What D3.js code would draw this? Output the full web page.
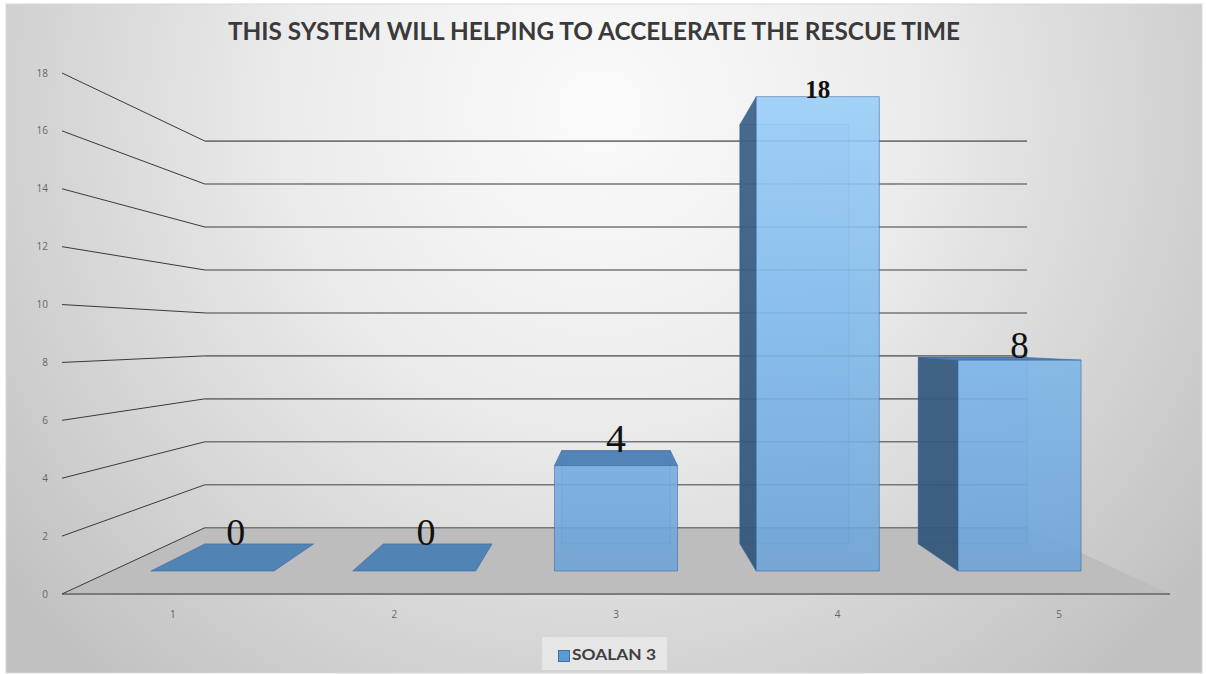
<!DOCTYPE html>
<html>
<head>
<meta charset="utf-8">
<script src="https://cdn.jsdelivr.net/npm/d3@7/dist/d3.min.js"></script>
<style>
  html, body { margin: 0; padding: 0; background: #ffffff; }
  svg { display: block; }
</style>
</head>
<body>
<svg id="chart" width="1206" height="674"></svg>
<script>
// ---- data ----
const chartTitle = "THIS SYSTEM WILL HELPING TO ACCELERATE THE RESCUE TIME";
const categories = ["1", "2", "3", "4", "5"];
const seriesName = "SOALAN 3";
const values = [0, 0, 4, 18, 8];
const yTicks = [0, 2, 4, 6, 8, 10, 12, 14, 16, 18];

// label fonts per bar (data labels use mixed formatting)
const labelFonts = [
  { size: 38, weight: 400 },
  { size: 38, weight: 400 },
  { size: 40, weight: 400 },
  { size: 25, weight: 700 },
  { size: 37, weight: 400 }
];

const W = 1206, H = 674;
const svg = d3.select("#chart");
const defs = svg.append("defs");

// ---- scales (front plane of the 3D box) ----
const x = d3.scaleBand().domain(categories).range([62, 1170])
  .paddingInner(0.39).paddingOuter(0.195);
const y = d3.scaleLinear().domain([0, 18]).range([594, 73]);

// perspective: every depth plane is a scaled copy of the front plane
const vp = [(x.range()[0] + x.range()[1]) / 2, 337];
const depth = { front: 1, barFront: 0.9105, barBack: 0.805, wall: 0.742 };
function P(px, py, s) {
  return [vp[0] + s * (px - vp[0]), vp[1] + s * (py - vp[1])];
}
const line = d3.line();

// ---- background ----
const bg = defs.append("radialGradient").attr("id", "bgGrad")
  .attr("gradientUnits", "userSpaceOnUse")
  .attr("cx", 600).attr("cy", 110).attr("r", 760);
bg.append("stop").attr("offset", 0).attr("stop-color", "#fbfbfb");
bg.append("stop").attr("offset", 0.4).attr("stop-color", "#ececec");
bg.append("stop").attr("offset", 1).attr("stop-color", "#c1c1c1");

svg.append("rect").attr("x", 6).attr("y", 4).attr("width", 1196).attr("height", 669)
  .attr("fill", "url(#bgGrad)").attr("stroke", "#d9d9d9").attr("stroke-width", 1);

// ---- title ----
const titleText = svg.append("text")
  .attr("x", 594).attr("y", 40)
  .attr("text-anchor", "middle")
  .attr("font-family", "Lato, 'Open Sans', sans-serif")
  .attr("font-weight", 700).attr("font-size", 24)
  .attr("fill", "#3a3a3a")
  .text(chartTitle);
titleText.attr("textLength", 732).attr("lengthAdjust", "spacingAndGlyphs");

// ---- floor ----
const [xa, xb] = x.range();
const y0 = y(0);
svg.append("path")
  .attr("d", line([P(xa, y0, depth.front), P(xa, y0, depth.wall), P(xb, y0, depth.wall), P(xb, y0, depth.front)]) + "Z")
  .attr("fill", "#bdbdbd");
svg.append("path")
  .attr("d", line([P(xa, y0, depth.front), P(xb, y0, depth.front)]))
  .attr("stroke", "#7a7a7a").attr("stroke-width", 2).attr("fill", "none");

// ---- gridlines: side wall diagonal + back wall horizontal ----
const grid = svg.append("g");
yTicks.forEach(v => {
  grid.append("path")
    .attr("d", line([P(xa, y(v), depth.front), P(xa, y(v), depth.wall)]))
    .attr("stroke", "#3a3a3a").attr("stroke-width", 1).attr("fill", "none");
  grid.append("path")
    .attr("d", line([P(xa, y(v), depth.wall), P(xb, y(v), depth.wall)]))
    .attr("stroke", "#767676").attr("stroke-width", 1.6).attr("fill", "none");
});

// ---- y tick labels ----
svg.append("g").selectAll("text").data(yTicks).join("text")
  .attr("x", xa - 14).attr("y", d => y(d)).attr("dy", "0.35em")
  .attr("text-anchor", "end")
  .attr("font-family", "'Open Sans', sans-serif").attr("font-size", 10)
  .attr("fill", "#666")
  .text(d => d);

// ---- category labels ----
svg.append("g").selectAll("text").data(categories).join("text")
  .attr("x", d => x(d) + x.bandwidth() / 2).attr("y", 618)
  .attr("text-anchor", "middle")
  .attr("font-family", "'Open Sans', sans-serif").attr("font-size", 10)
  .attr("fill", "#666")
  .text(d => d);

// ---- bars ----
const frontGrad = defs.append("linearGradient").attr("id", "frontGrad")
  .attr("gradientUnits", "userSpaceOnUse")
  .attr("x1", 0).attr("x2", 0).attr("y1", y(18)).attr("y2", y(0));
frontGrad.append("stop").attr("offset", 0).attr("stop-color", "#9bd0fa");
frontGrad.append("stop").attr("offset", 0.5).attr("stop-color", "#7fb8ea");
frontGrad.append("stop").attr("offset", 1).attr("stop-color", "#6aa1d6");

const sideGrad = defs.append("linearGradient").attr("id", "sideGrad")
  .attr("gradientUnits", "userSpaceOnUse")
  .attr("x1", 0).attr("x2", 0).attr("y1", y(18)).attr("y2", y(0));
sideGrad.append("stop").attr("offset", 0).attr("stop-color", "#3d6185");
sideGrad.append("stop").attr("offset", 1).attr("stop-color", "#2f5478");

const barsG = svg.append("g");
const edge = "rgba(50,100,160,0.55)";
categories.forEach((c, i) => {
  const v = values[i];
  const x0 = x(c), x1 = x(c) + x.bandwidth();
  const yt = y(v);
  const sF = depth.barFront, sB = depth.barBack;
  const g = barsG.append("g");
  const face = (pts, fill, op) => g.append("path")
    .attr("d", line(pts) + "Z")
    .attr("fill", fill).attr("fill-opacity", op)
    .attr("stroke", edge).attr("stroke-width", 1);

  if (v > 0) {
    // back face (seen through the translucent front)
    face([P(x0, yt, sB), P(x1, yt, sB), P(x1, y0, sB), P(x0, y0, sB)], "#6fa8dc", 0.25);
    if (x0 > vp[0]) face([P(x0, yt, sF), P(x0, yt, sB), P(x0, y0, sB), P(x0, y0, sF)], "url(#sideGrad)", 0.92);
    if (x1 < vp[0]) face([P(x1, yt, sF), P(x1, yt, sB), P(x1, y0, sB), P(x1, y0, sF)], "url(#sideGrad)", 0.92);
  }
  if (yt > vp[1]) {
    face([P(x0, yt, sF), P(x1, yt, sF), P(x1, yt, sB), P(x0, yt, sB)], "#4c7fb4", 0.95);
  }
  if (v > 0) {
    face([P(x0, yt, sF), P(x1, yt, sF), P(x1, y0, sF), P(x0, y0, sF)], "url(#frontGrad)", 0.88);
  }
});

// ---- data labels ----
categories.forEach((c, i) => {
  const v = values[i];
  const x0 = x(c), x1 = x(c) + x.bandwidth(), xm = (x0 + x1) / 2;
  const yt = y(v);
  const sF = depth.barFront, sB = depth.barBack;
  // labels sit over the middle of a clearly visible top face, otherwise over the front edge
  const openTop = yt - vp[1] > 40;
  const anchor = openTop ? P(xm, yt, (sF + sB) / 2) : P(xm, yt, sF);
  const topY = Math.min(P(xm, yt, sF)[1], P(xm, yt, sB)[1]);
  svg.append("text")
    .attr("x", anchor[0]).attr("y", topY + 1)
    .attr("text-anchor", "middle")
    .attr("font-family", "'Liberation Serif', 'Times New Roman', serif")
    .attr("font-size", labelFonts[i].size).attr("font-weight", labelFonts[i].weight)
    .attr("fill", "#111")
    .text(v);
});

// ---- legend ----
const lg = svg.append("g");
lg.append("rect").attr("x", 542).attr("y", 637).attr("width", 125).attr("height", 33)
  .attr("fill", "#e6e6e6");
lg.append("rect").attr("x", 558.5).attr("y", 650.5).attr("width", 11).attr("height", 11)
  .attr("fill", "#5b9bd5").attr("stroke", "#41719c").attr("stroke-width", 1);
const legText = lg.append("text").attr("x", 572).attr("y", 660)
  .attr("font-family", "Lato, 'Open Sans', sans-serif").attr("font-weight", 700)
  .attr("font-size", 15).attr("fill", "#404040")
  .text(seriesName);
legText.attr("textLength", 84).attr("lengthAdjust", "spacingAndGlyphs");
</script>
</body>
</html>
